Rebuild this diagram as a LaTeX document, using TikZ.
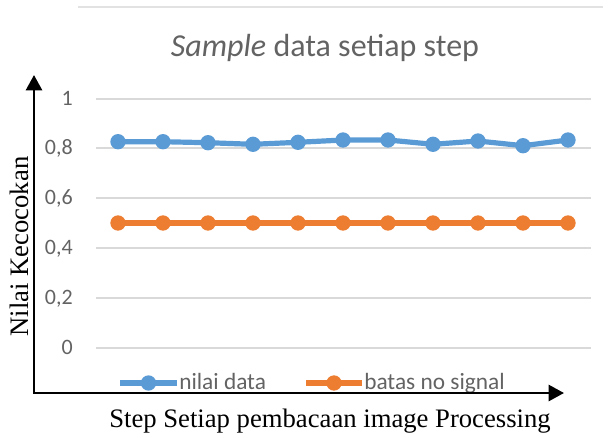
\documentclass[tikz,border=0pt]{standalone}
\usepackage{fontspec}
\setmainfont{Liberation Serif}
\newfontfamily\calib{Carlito}
\usetikzlibrary{arrows.meta}
\definecolor{sblue}{HTML}{5B9BD5}
\definecolor{sorange}{HTML}{ED7D31}
\definecolor{tickgray}{HTML}{636363}
\definecolor{gridgray}{HTML}{D9D9D9}
\definecolor{framegray}{HTML}{E2E2E2}
\begin{document}
\begin{tikzpicture}[x=0.75pt,y=-0.75pt,
  gridline/.style={gridgray,line width=1.1pt},
  ticklbl/.style={anchor=base east,text=tickgray,inner sep=0pt,font=\calib\fontsize{16.5pt}{19pt}\selectfont},
  legtext/.style={anchor=base west,text=tickgray,inner sep=0pt,font=\calib\fontsize{17.5pt}{20pt}\selectfont},
  titletext/.style={anchor=base,text=tickgray,inner sep=0pt,font=\calib\fontsize{24pt}{28pt}\selectfont},
  axtitle/.style={inner sep=0pt,font=\fontsize{20pt}{24pt}\selectfont},
  series/.style={line width=3.9pt,line cap=round,line join=round},
  marker/.style={circle,fill=#1,inner sep=0pt,minimum size=11.5pt},
  axisline/.style={line width=2pt,{Triangle[width=12pt,length=11.5pt]}-{Triangle[width=12pt,length=11.5pt]}}
]
\useasboundingbox (0,0) rectangle (616,437);
% faint chart frame remnant
\draw[framegray,line width=1.2pt] (78,7) -- (603,7);
% gridlines and tick labels
\foreach \v/\y in {0/348,0{,}2/298,0{,}4/248,0{,}6/198,0{,}8/148,1/99}{
  \draw[gridline] (96,\y) -- (591,\y);
  \node[ticklbl] at (73,\y+6.8) {\v};
}
% title
\node[titletext] (title) at (325,56) {\textit{Sample} data setiap step};
% series: batas no signal
\foreach \k in {0,...,10}{
  \coordinate (o\k) at (118+45*\k,223);
}
\draw[series,sorange] (o0) \foreach \k in {1,...,10}{ -- (o\k)};
\foreach \k in {0,...,10}{ \node[marker=sorange] (om\k) at (o\k) {}; }
% series: nilai data
\foreach \k/\y in {0/141.7,1/141.7,2/142.7,3/144.3,4/142.3,5/140,6/140,7/144.3,8/141,9/145.7,10/140}{
  \coordinate (b\k) at (118+45*\k,\y);
}
\draw[series,sblue] (b0) \foreach \k in {1,...,10}{ -- (b\k)};
\foreach \k in {0,...,10}{ \node[marker=sblue] (bm\k) at (b\k) {}; }
% legend
\coordinate (lb1) at (120,383); \coordinate (lb2) at (177,383);
\draw[series,sblue,line cap=butt] (lb1) -- (lb2);
\node[marker=sblue] (lbm) at (148.5,383) {};
\node[legtext] (lbt) at (179,389) {nilai data};
\coordinate (lo1) at (306,383); \coordinate (lo2) at (362,383);
\draw[series,sorange,line cap=butt] (lo1) -- (lo2);
\node[marker=sorange] (lom) at (334,383) {};
\node[legtext] (lot) at (364,389) {batas no signal};
% axes
\coordinate (ytip) at (34,75);
\coordinate (orig) at (34,393);
\coordinate (xtip) at (564,393);
\draw[axisline] (ytip) -- (orig) -- (xtip);
% axis titles
\node[axtitle,anchor=base] (xlab) at (330,427) {Step Setiap pembacaan image Processing};
\node[axtitle,anchor=base,rotate=90] (ylab) at (28,246.5) {Nilai Kecocokan};
\end{tikzpicture}
\end{document}
